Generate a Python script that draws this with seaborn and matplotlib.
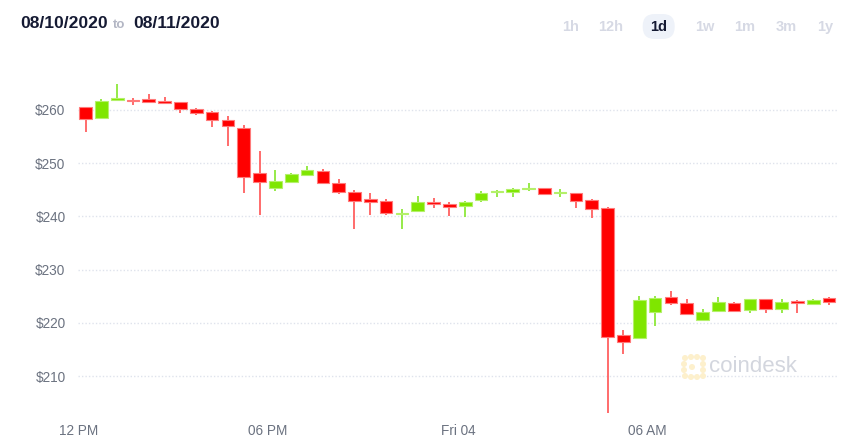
import numpy as np
import pandas as pd
import matplotlib
matplotlib.use("Agg")
import matplotlib.pyplot as plt
import matplotlib.dates as mdates
from matplotlib import font_manager as fm
from matplotlib.patches import FancyBboxPatch, Circle
from matplotlib.transforms import IdentityTransform
import seaborn as sns

# ---------------- data ----------------
start_time = "2020-09-03 12:14"
n_candles = 48
open_ = [260.5, 258.4, 261.9, 261.9, 262.1, 261.6, 261.4, 260.1, 259.6, 258.1,
         256.6, 248.2, 245.4, 246.5, 247.8, 248.5, 246.3, 244.5, 243.2, 242.9,
         240.4, 241.0, 242.6, 242.4, 242.0, 243.1, 244.5, 244.6, 245.1, 245.4,
         244.4, 244.3, 243.0, 241.6, 217.7, 217.1, 222.1, 224.8, 223.8, 220.5,
         222.3, 223.7, 222.5, 224.5, 222.7, 224.2, 223.6, 224.6]
close = [258.2, 261.7, 262.1, 261.7, 261.4, 261.4, 260.1, 259.3, 258.1, 256.9,
         247.3, 246.4, 246.7, 248.0, 248.7, 246.3, 244.5, 242.9, 242.7, 240.6,
         240.6, 242.6, 242.3, 241.7, 242.7, 244.3, 244.7, 245.2, 245.3, 244.2,
         244.6, 242.9, 241.4, 217.4, 216.5, 224.3, 224.7, 223.8, 221.6, 222.0,
         224.0, 222.3, 224.4, 222.7, 224.0, 223.8, 224.3, 223.9]
high = [260.6, 262.1, 264.9, 262.2, 262.9, 262.4, 261.5, 260.3, 259.8, 258.8,
        257.1, 252.3, 248.7, 248.2, 249.5, 248.8, 247.0, 244.9, 244.3, 243.2,
        241.4, 243.9, 243.5, 242.7, 242.9, 244.7, 245.0, 245.4, 246.3, 245.4,
        245.2, 244.4, 243.2, 241.8, 218.7, 225.1, 225.1, 225.9, 224.5, 222.7,
        224.8, 224.0, 224.5, 224.5, 224.5, 224.3, 224.5, 224.8]
low = [255.9, 258.4, 261.9, 260.9, 261.2, 261.0, 259.3, 259.0, 256.7, 253.1,
       244.4, 240.2, 244.7, 246.5, 247.7, 246.0, 244.2, 237.6, 240.2, 240.2,
       237.6, 240.8, 241.6, 240.1, 239.9, 242.7, 243.6, 243.6, 244.7, 244.2,
       243.6, 241.6, 239.7, 203.0, 214.1, 217.1, 219.5, 223.4, 221.4, 220.3,
       222.1, 222.1, 221.8, 221.9, 221.9, 221.8, 223.5, 223.3]
y_ticks = [210, 220, 230, 240, 250, 260]
y_tick_labels = ["$210", "$220", "$230", "$240", "$250", "$260"]
x_tick_times = ["2020-09-03 12:00", "2020-09-03 18:00", "2020-09-04 00:00", "2020-09-04 06:00"]
x_tick_labels = ["12 PM", "06 PM", "Fri 04", "06 AM"]
date_from = "08/10/2020"
date_to = "08/11/2020"
ranges = ["1h", "12h", "1d", "1w", "1m", "3m", "1y"]
active_range = "1d"

# ---------------- fonts ----------------
def pick(names):
    for n in names:
        try:
            fm.findfont(fm.FontProperties(family=n), fallback_to_default=False)
            return n
        except Exception:
            pass
    return "DejaVu Sans"

sns.set_theme(style="white")
narrow = pick(["Liberation Sans Narrow", "Liberation Sans"])
sans = pick(["Liberation Sans", "DejaVu Sans"])
plt.rcParams["font.family"] = [sans, "DejaVu Sans"]

df = pd.DataFrame({
    "time": pd.date_range(start_time, periods=n_candles, freq="30min"),
    "open": open_, "close": close, "high": high, "low": low,
})
df["x"] = mdates.date2num(df["time"])
df["up"] = df["close"] >= df["open"]

RED, RED_EDGE, RED_WICK = "#ff0000", "#ff7a7a", "#ff6060"
GREEN, GREEN_EDGE, GREEN_WICK = "#7fe600", "#b4f06a", "#8ee83a"

W, H = 859, 448
fig = plt.figure(figsize=(W / 100, H / 100), dpi=100)
ax = fig.add_axes([78 / W, (H - 413) / H, (837 - 78) / W, (413 - 62) / H])

width = 24 / 1440.0
for up, face, edge, wick in [(False, RED, RED_EDGE, RED_WICK), (True, GREEN, GREEN_EDGE, GREEN_WICK)]:
    sub = df[df["up"] == up]
    ax.vlines(sub["x"], sub["low"], sub["high"], color=wick, linewidth=1.3, zorder=2)
    body = (sub["close"] - sub["open"]).to_numpy()
    body = np.where(np.abs(body) < 0.25, np.where(body < 0, -0.25, 0.25), body)
    ax.bar(sub["x"], body, bottom=sub["open"], width=width, color=face,
           edgecolor=edge, linewidth=0.8, zorder=3)

x0 = mdates.date2num(pd.Timestamp("2020-09-03 12:00"))
ax.set_xlim(x0 - 0.3 / 1440, x0 + 1.0 - 1.0 / 1440)
ax.set_ylim(203.1, 268.95)

ax.set_yticks(y_ticks)
ax.set_yticklabels(y_tick_labels)
ax.set_xticks(mdates.date2num(pd.to_datetime(x_tick_times)))
ax.set_xticklabels(x_tick_labels)
for lab in ax.get_yticklabels() + ax.get_xticklabels():
    lab.set_fontfamily([narrow, "DejaVu Sans"])
    lab.set_fontsize(9.8)
    lab.set_color("#6b7280")
ax.tick_params(axis="y", length=0, pad=9)
ax.tick_params(axis="x", length=0, pad=8)
ax.grid(False)
ax.yaxis.grid(True, color="#dfe3ec", linestyle=(0, (1, 1.5)), linewidth=1.0)
ax.set_axisbelow(True)
sns.despine(ax=ax, left=True, bottom=True, top=True, right=True)
ax.set_facecolor("white")

# ---------------- header ----------------
def fy(py):
    return 1 - py / H

fig.text(20 / W, fy(24), date_from, fontsize=12.6, fontweight="bold", color="#151a33", va="center", ha="left")
fig.text(112.5 / W, fy(25), "to", fontsize=9.5, fontweight="bold", color="#b3b6c4", va="center", ha="left")
fig.text(133 / W, fy(24), date_to, fontsize=12.6, fontweight="bold", color="#151a33", va="center", ha="left")

centers = [570.5, 610.5, 658.7, 705, 744.5, 786, 825]
for lab, cx in zip(ranges, centers):
    if lab == active_range:
        pill = FancyBboxPatch((cx - 16, H - 39), 32, 25,
                              boxstyle="round,pad=0,rounding_size=12",
                              transform=IdentityTransform(), facecolor="#eef2f9",
                              edgecolor="none", zorder=0)
        fig.patches.append(pill)
        col = "#151a33"
    else:
        col = "#d6d9e4"
    fig.text(cx / W, fy(27), lab, fontsize=10.5, fontweight="bold", color=col, ha="center", va="center", zorder=2)

# ---------------- watermark ----------------
logo_pts = [(685, 358), (691, 357), (697, 357), (703, 358),
            (684, 364), (684, 370),
            (685, 376), (691, 377), (697, 377), (703, 376),
            (703, 364), (703, 370), (692, 367)]
for px, py in logo_pts:
    fig.patches.append(Circle((px, H - py), 3.0, transform=IdentityTransform(),
                              facecolor="#fdf0cc", edgecolor="none"))
fig.text(709 / W, fy(366), "coindesk", fontsize=16, color="#d3d6de", ha="left", va="center")

fig.savefig("out.png", dpi=100, facecolor="white")
